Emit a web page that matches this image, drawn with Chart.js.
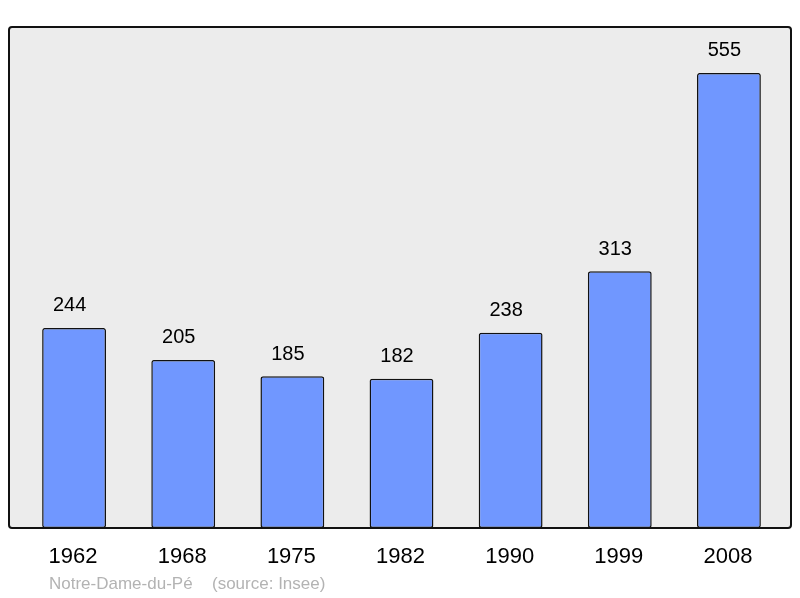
<!DOCTYPE html>
<html>
<head>
<meta charset="utf-8">
<script src="https://cdn.jsdelivr.net/npm/chart.js@4"></script>
<style>
  html, body { margin: 0; padding: 0; background: #fff; }
  #wrap { width: 800px; height: 598px; }
</style>
</head>
<body>
<div id="wrap"><canvas id="popChart" width="800" height="598"></canvas></div>
<script>
// données
const years = ["1962", "1968", "1975", "1982", "1990", "1999", "2008"];
const population = [244, 205, 185, 182, 238, 313, 555];
const footerName = "Notre-Dame-du-Pé";
const footerSource = "(source: Insee)";

const FONT = "'Liberation Sans', Arial, sans-serif";

// fond gris + cadre, étiquettes
const framePlugin = {
  id: "frame",
  beforeDatasetsDraw(chart) {
    const { ctx, chartArea } = chart;
    const l = chartArea.left - 10.5, r = chartArea.right + 7.5;
    const t = chartArea.top, b = chartArea.bottom;
    ctx.save();
    ctx.beginPath();
    ctx.roundRect(l, t, r - l, b - t, 3);
    ctx.fillStyle = "#ececec";
    ctx.fill();
    ctx.restore();
  },
  afterDatasetsDraw(chart) {
    const { ctx, chartArea, scales } = chart;
    const l = chartArea.left - 10.5, r = chartArea.right + 7.5;
    const t = chartArea.top, b = chartArea.bottom;
    ctx.save();
    ctx.beginPath();
    ctx.roundRect(l, t, r - l, b - t, 3);
    ctx.lineWidth = 2;
    ctx.strokeStyle = "#111";
    ctx.stroke();

    ctx.fillStyle = "#000";
    ctx.textAlign = "center";
    ctx.textBaseline = "middle";
    ctx.font = "20px " + FONT;
    population.forEach((v, i) => {
      const x = scales.x.getPixelForValue(i);
      const y = scales.y.getPixelForValue(v);
      ctx.fillText(String(v), x - 4.5, y - 22);
    });
    ctx.font = "22px " + FONT;
    years.forEach((yr, i) => {
      ctx.fillText(yr, scales.x.getPixelForValue(i) - 1, b + 29);
    });

    ctx.textAlign = "left";
    ctx.font = "17px " + FONT;
    ctx.fillStyle = "#b3b3b3";
    ctx.fillText(footerName, 49, 584);
    ctx.fillText(footerSource, 212, 584);
    ctx.restore();
  }
};

new Chart(document.getElementById("popChart"), {
  type: "bar",
  data: {
    labels: years,
    datasets: [{
      data: population,
      backgroundColor: "#7097ff",
      borderColor: "#111",
      borderWidth: 1.5,
      borderRadius: 2.5,
      borderSkipped: false,
      barPercentage: 0.585,
      categoryPercentage: 1
    }]
  },
  options: {
    responsive: false,
    devicePixelRatio: 1,
    animation: false,
    layout: { padding: { top: 27, bottom: 70, left: 19.5, right: 16.5 } },
    plugins: { legend: { display: false }, tooltip: { enabled: false } },
    scales: {
      x: { display: false },
      y: { display: false, min: 0, max: 611 }
    }
  },
  plugins: [framePlugin]
});
</script>
</body>
</html>
